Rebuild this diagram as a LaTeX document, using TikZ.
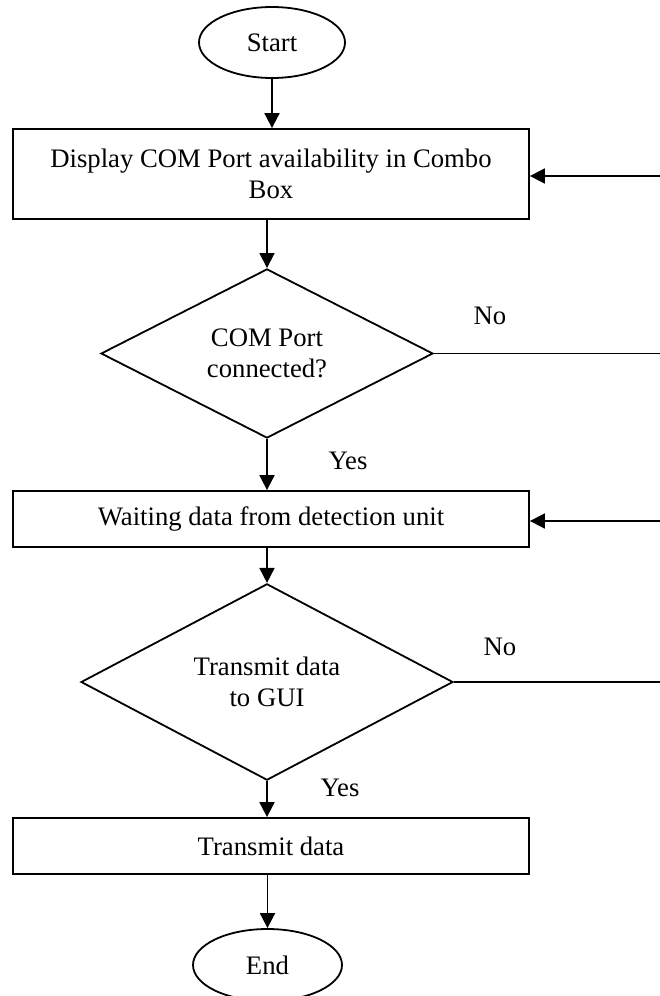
\documentclass[tikz,border=0pt]{standalone}
\usepackage{fontspec}
\setmainfont{Liberation Serif}
\usetikzlibrary{shapes.geometric,arrows.meta}
\begin{document}
\begin{tikzpicture}[x=1pt,y=-1pt,
  every node/.style={font=\fontsize{26.7}{31}\selectfont, inner sep=0pt},
  termnode/.style={draw, ellipse, line width=1.8pt},
  procbox/.style={draw, rectangle, line width=1.8pt, minimum width=516, align=center},
  decnode/.style={draw, diamond, line width=1.8pt, align=center},
  arr/.style={line width=1.8pt, -{Triangle[length=15pt,width=15pt]}},
  plain/.style={line width=1.8pt}]
\useasboundingbox (0,0) rectangle (660,996);
\node[termnode, minimum width=146, minimum height=71] (start) at (272,42.5) {Start};
\node[procbox, minimum height=90] (box1) at (271,174) {Display COM Port availability in Combo\\Box};
\node[decnode, minimum width=332, minimum height=163] (d1) at (267,353.5) {COM Port\\connected?};
\node[procbox, minimum height=56] (box2) at (271,519) {Waiting data from detection unit};
\node[decnode, minimum width=372, minimum height=164] (d2) at (267,682) {Transmit data\\to GUI};
\node[procbox, minimum height=56] (box3) at (271,846) {Transmit data};
\node[termnode, minimum width=149, minimum height=72] (end) at (267.5,965) {End};

\node (no1) at (490,316) {No};
\node (yes1) at (348,461) {Yes};
\node (no2) at (500,647) {No};
\node (yes2) at (340,788) {Yes};

\coordinate (r1) at (660,176);
\coordinate (r2) at (660,353.5);
\coordinate (r3) at (660,521);
\coordinate (r4) at (660,682);

\draw[arr] (start.south) -- (start.south |- box1.north);
\draw[arr] (d1.north |- box1.south) -- (d1.north);
\draw[arr] (d1.south) -- (d1.south |- box2.north);
\draw[arr] (d2.north |- box2.south) -- (d2.north);
\draw[arr] (d2.south) -- (d2.south |- box3.north);
\draw[arr] (end.north |- box3.south) -- (end.north);

\draw[arr] (r1) -- (box1.east |- r1);
\draw[plain] (d1.east) -- (r2);
\draw[arr] (r3) -- (box2.east |- r3);
\draw[plain] (d2.east) -- (r4);
\end{tikzpicture}
\end{document}
